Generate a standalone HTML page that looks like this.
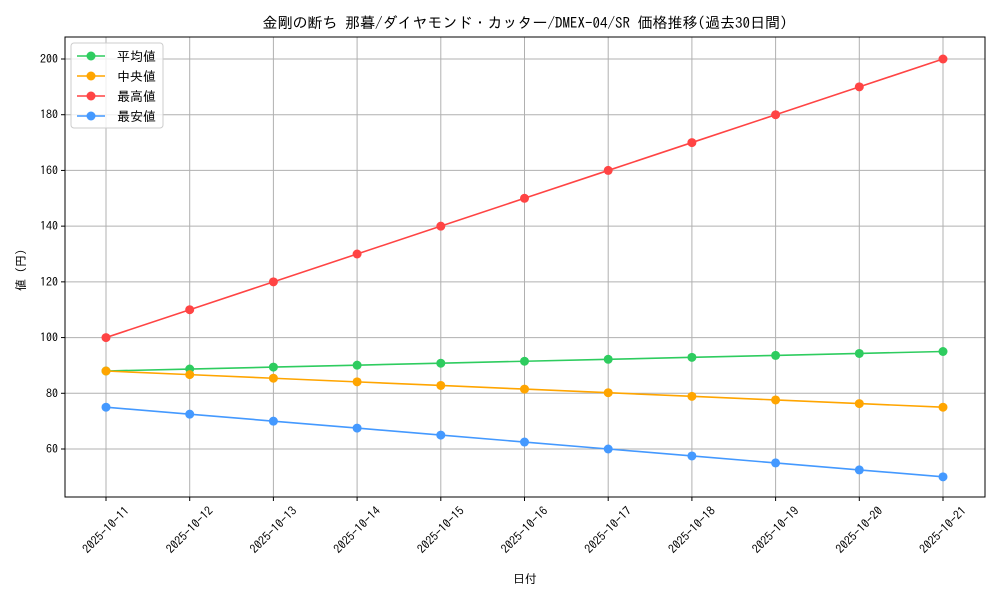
<!DOCTYPE html>
<html><head><meta charset="utf-8"><style>
body{margin:0;background:#fff}
svg text{font-family:"IPAGothic","Liberation Sans","Noto Sans CJK JP",sans-serif;fill:#000}
</style></head><body>
<svg id="c" width="1000" height="600" xmlns="http://www.w3.org/2000/svg">
<rect width="1000" height="600" fill="#fff"/>
<text x="525" y="28" font-size="15" text-anchor="middle">金剛の断ち 那暮/ダイヤモンド・カッター/DMEX-04/SR 価格推移(過去30日間)</text>
<g id="grid"></g><g id="series"></g><g id="axes"></g>
<text x="525" y="583" font-size="12" text-anchor="middle">日付</text>
<text transform="translate(25,270) rotate(-90)" font-size="12" text-anchor="middle">値 (円)</text>
<g id="legend"></g>
</svg>
<script>
const dates=["2025-10-11","2025-10-12","2025-10-13","2025-10-14","2025-10-15","2025-10-16","2025-10-17","2025-10-18","2025-10-19","2025-10-20","2025-10-21"];
const avgVals=[88,88.7,89.4,90.1,90.8,91.5,92.2,92.9,93.6,94.3,95];
const medVals=[88,86.7,85.4,84.1,82.8,81.5,80.2,78.9,77.6,76.3,75];
const maxVals=[100,110,120,130,140,150,160,170,180,190,200];
const minVals=[75,72.5,70,67.5,65,62.5,60,57.5,55,52.5,50];
const yTicks=[60,80,100,120,140,160,180,200];
const seriesNames=["平均値","中央値","最高値","最安値"];
const NS="http://www.w3.org/2000/svg";
const L=65,R=985,T=37,B=497;
const x=i=>106+i*(943-106)/(dates.length-1);
const y=v=>59+(200-v)*(449-59)/140;
function mk(tag,attrs,parent){const e=document.createElementNS(NS,tag);for(const k in attrs)e.setAttribute(k,attrs[k]);parent.appendChild(e);return e;}
const grid=document.getElementById('grid'),axes=document.getElementById('axes'),ser=document.getElementById('series'),leg=document.getElementById('legend');
dates.forEach((d,i)=>{
 const g=mk('line',{x1:x(i),x2:x(i),y1:T,y2:B,stroke:'#b0b0b0','stroke-width':1},grid);
 
 
 mk('line',{x1:x(i),x2:x(i),y1:B,y2:B+4,stroke:'#000'},axes);
 const cx=x(i),cy=B+33;
 const t=mk('text',{x:cx,y:cy+4,'font-size':12,'text-anchor':'middle',transform:`rotate(-45 ${cx} ${cy})`},axes);
 t.textContent=d;
 
 
});
yTicks.forEach(v=>{
 const g=mk('line',{x1:L,x2:R,y1:y(v),y2:y(v),stroke:'#b0b0b0','stroke-width':1},grid);
 
 
 mk('line',{x1:L-4,x2:L,y1:y(v),y2:y(v),stroke:'#000'},axes);
 const t=mk('text',{x:L-7,y:y(v)+4,'font-size':12,'text-anchor':'end'},axes);
 t.textContent=v;
 
 
});
const fr=mk('rect',{x:L,y:T,width:R-L,height:B-T,fill:'none',stroke:'#000','stroke-width':1},axes);


const all=[avgVals,medVals,maxVals,minVals];
const colors=['#2ecc5f','#ffa500','#ff4444','#4499ff'];
const keys=['avg','median','max','min'];
all.forEach((vals,s)=>{
 const p=mk('polyline',{points:vals.map((v,i)=>x(i)+','+y(v)).join(' '),fill:'none',stroke:colors[s],'stroke-width':1.6},ser);
 
 
 vals.forEach((v,i)=>{
  const c=mk('circle',{cx:x(i),cy:y(v),r:4.5,fill:colors[s]},ser);
  
  
 });
});
const lb=mk('rect',{x:71,y:43,width:92,height:85,rx:3,fill:'#fff','fill-opacity':0.8,stroke:'#ccc'},leg);


seriesNames.forEach((n,s)=>{
 const yy=56+s*20;
 mk('line',{x1:77,x2:105,y1:yy,y2:yy,stroke:colors[s],'stroke-width':1.6},leg);
 mk('circle',{cx:91,cy:yy,r:4.5,fill:colors[s]},leg);
 const t=mk('text',{x:117,y:yy+5,'font-size':13},leg);
 t.textContent=n;
 
 
});
</script>
</body></html>
